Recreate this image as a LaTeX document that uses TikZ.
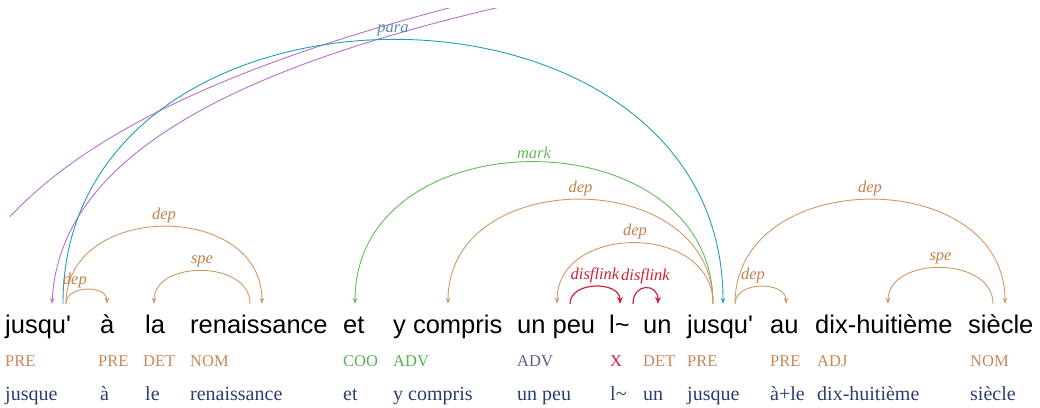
\documentclass[tikz,border=0pt]{standalone}
\usepackage{fontspec}
\setmainfont{Liberation Serif}
\newfontfamily\wordfont{Liberation Sans}
\usetikzlibrary{arrows.meta}
\definecolor{depbrown}{RGB}{208,152,102}
\definecolor{deptext}{RGB}{196,128,74}
\definecolor{parateal}{RGB}{32,160,176}
\definecolor{paratext}{RGB}{82,140,172}
\definecolor{linkpurple}{RGB}{182,112,204}
\definecolor{markgreen}{RGB}{102,186,92}
\definecolor{disred}{RGB}{210,32,62}
\definecolor{posbrown}{RGB}{200,136,88}
\definecolor{posgreen}{RGB}{88,178,80}
\definecolor{posviolet}{RGB}{104,88,134}
\definecolor{lemnavy}{RGB}{42,62,112}

\begin{document}
\begin{tikzpicture}[x=1pt, y=1pt,
    word/.style={font=\wordfont\fontsize{25.5}{30}\selectfont, anchor=base west, inner xsep=0pt, inner ysep=10pt, text height=19pt, text depth=6pt},
    postag/.style={font=\fontsize{16.5}{20}\selectfont, anchor=base west, inner sep=0pt, text=posbrown},
    lemma/.style={font=\fontsize{20}{24}\selectfont, anchor=base west, inner sep=0pt, text=lemnavy},
    lbl/.style={font=\itshape\fontsize{16.5}{20}\selectfont, text=deptext},
    deparc/.style={draw=depbrown, line width=0.9pt, -{Stealth[length=6pt, width=4.5pt]}},
    disarc/.style={draw=disred, line width=1.2pt, -{Stealth[length=7pt, width=6pt]}}
]
    \useasboundingbox (0,0) rectangle (1040,-407);

    % Tokens
    \node[word] (tok_jusqu1) at (5,-333) {jusqu'};
    \node[word] (tok_a) at (100,-333) {à};
    \node[word] (tok_la) at (145,-333) {la};
    \node[word] (tok_renaissance) at (190,-333) {renaissance};
    \node[word] (tok_et) at (343,-333) {et};
    \node[word] (tok_ycompris) at (393,-333) {y compris};
    \node[word] (tok_unpeu) at (517,-333) {un peu};
    \node[word] (tok_l) at (609,-333) {l\char"7E};
    \node[word] (tok_un) at (643,-333) {un};
    \node[word] (tok_jusqu2) at (687,-333) {jusqu'};
    \node[word] (tok_au) at (770,-333) {au};
    \node[word] (tok_dixhuitieme) at (815,-333) {dix-huitième};
    \node[word] (tok_siecle) at (968,-333) {siècle};

    % Part of speech
    \node[postag] (pos_jusqu1) at (5,-366) {PRE};
    \node[postag] (pos_a) at (98,-366) {PRE};
    \node[postag] (pos_la) at (143,-366) {DET};
    \node[postag] (pos_renaissance) at (190,-366) {NOM};
    \node[postag, text=posgreen] (pos_et) at (343,-366) {COO};
    \node[postag, text=posgreen] (pos_ycompris) at (393,-366) {ADV};
    \node[postag, text=posviolet] (pos_unpeu) at (517,-366) {ADV};
    \node[postag, text=disred] (pos_l) at (610,-366) {X};
    \node[postag] (pos_un) at (643,-366) {DET};
    \node[postag] (pos_jusqu2) at (687,-366) {PRE};
    \node[postag] (pos_au) at (770,-366) {PRE};
    \node[postag] (pos_dixhuitieme) at (817,-366) {ADJ};
    \node[postag] (pos_siecle) at (970,-366) {NOM};

    % Lemmas
    \node[lemma] (lem_jusqu1) at (5,-400) {jusque};
    \node[lemma] (lem_a) at (100,-400) {à};
    \node[lemma] (lem_la) at (145,-400) {le};
    \node[lemma] (lem_renaissance) at (190,-400) {renaissance};
    \node[lemma] (lem_et) at (343,-400) {et};
    \node[lemma] (lem_ycompris) at (393,-400) {y compris};
    \node[lemma] (lem_unpeu) at (517,-400) {un peu};
    \node[lemma] (lem_l) at (610,-400) {l\char"7E};
    \node[lemma] (lem_un) at (643,-400) {un};
    \node[lemma] (lem_jusqu2) at (687,-400) {jusque};
    \node[lemma] (lem_au) at (770,-400) {à+le};
    \node[lemma] (lem_dixhuitieme) at (817,-400) {dix-huitième};
    \node[lemma] (lem_siecle) at (970,-400) {siècle};

    % Links leaving the picture
    \begin{scope}
        \clip (10,-8) rectangle (1040,-407);
        \coordinate (purple_top) at (545,3);
        \coordinate (purple_left) at (-10,-240);
        \coordinate (purple_right) at (480,0);
        \draw[linkpurple, line width=0.9pt, -{Stealth[length=6pt, width=4.5pt]}] (purple_top) .. controls (250,-60) and (60,-150) .. ([xshift=47pt]tok_jusqu1.north west);
        \draw[linkpurple, line width=0.9pt] (purple_left) .. controls (60,-150) and (200,-70) .. (purple_right);
    \end{scope}

    % para
    \draw[deparc, draw=parateal] ([xshift=58pt]tok_jusqu1.north west) .. controls +(0,352) and +(0,352) .. ([xshift=36pt]tok_jusqu2.north west)
        node[lbl, pos=0.5, above, text=paratext] {para};

    % First phrase
    \draw[deparc] ([xshift=61pt]tok_jusqu1.north west) .. controls +(0,103) and +(0,103) .. ([xshift=72pt]tok_renaissance.north west)
        node[lbl, pos=0.5, above] {dep};
    \draw[deparc] ([xshift=61pt]tok_jusqu1.north west) .. controls +(0,19) and +(0,19) .. ([xshift=7pt]tok_a.north west)
        node[lbl, pos=0.3, above] {dep};
    \draw[deparc] ([xshift=60pt]tok_renaissance.north west) .. controls +(0,44) and +(0,44) .. ([xshift=9pt]tok_la.north west)
        node[lbl, pos=0.5, above] {spe};

    % Second jusqu' and its dependents
    \draw[deparc, draw=markgreen] ([xshift=26pt]tok_jusqu2.north west) .. controls +(0,189) and +(0,189) .. ([xshift=12pt]tok_et.north west)
        node[lbl, pos=0.5, above, text=markgreen] {mark};
    \draw[deparc] ([xshift=26pt]tok_jusqu2.north west) .. controls +(0,139) and +(0,139) .. ([xshift=55pt]tok_ycompris.north west)
        node[lbl, pos=0.5, above] {dep};
    \draw[deparc] ([xshift=26pt]tok_jusqu2.north west) .. controls +(0,81) and +(0,81) .. ([xshift=40pt]tok_unpeu.north west)
        node[lbl, pos=0.5, above] {dep};
    \draw[deparc] ([xshift=48pt]tok_jusqu2.north west) .. controls +(0,139) and +(0,139) .. ([xshift=37pt]tok_siecle.north west)
        node[lbl, pos=0.5, above] {dep};
    \draw[deparc] ([xshift=48pt]tok_jusqu2.north west) .. controls +(0,23) and +(0,23) .. ([xshift=16pt]tok_au.north west)
        node[lbl, pos=0.4, above] {dep};
    \draw[deparc] ([xshift=25pt]tok_siecle.north west) .. controls +(0,48) and +(0,48) .. ([xshift=73pt]tok_dixhuitieme.north west)
        node[lbl, pos=0.5, above] {spe};

    % Disfluency links
    \draw[disarc] ([xshift=53pt]tok_unpeu.north west) .. controls +(0,23) and +(0,23) .. ([xshift=11pt]tok_l.north west)
        node[lbl, pos=0.5, above, text=disred] {disflink};
    \draw[disarc] ([xshift=24pt]tok_l.north west) .. controls +(0,21) and +(0,21) .. ([xshift=15pt]tok_un.north west)
        node[lbl, pos=0.5, above, text=disred] {disflink};
\end{tikzpicture}
\end{document}
